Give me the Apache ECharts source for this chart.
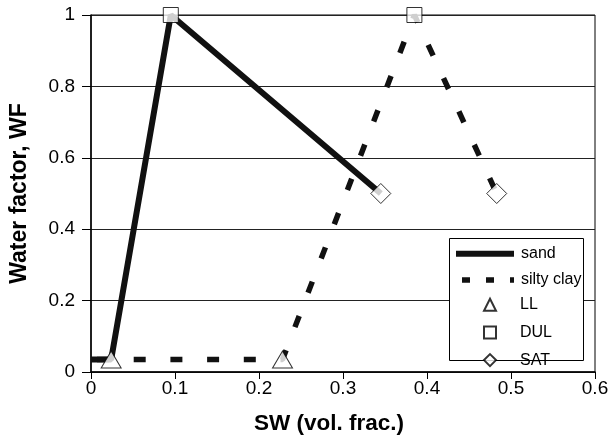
<!DOCTYPE html>
<html>
<head>
<meta charset="utf-8">
<script src="https://cdn.jsdelivr.net/npm/echarts@6/dist/echarts.min.js"></script>
<style>html,body{margin:0;padding:0;background:#fff}#c{width:612px;height:442px}</style>
</head>
<body>
<div id="c"></div>
<script>
// Data
const xTicks = [0, 0.1, 0.2, 0.3, 0.4, 0.5, 0.6];
const yTicks = [0, 0.2, 0.4, 0.6, 0.8, 1];
const sandSW = [0, 0.024, 0.095, 0.345];
const sandWF = [0.035, 0.035, 1, 0.5];
const claySW = [0, 0.228, 0.385, 0.483];
const clayWF = [0.035, 0.035, 1, 0.5];
// indices of the LL, DUL, SAT points within each curve
const LL_IDX = 1, DUL_IDX = 2, SAT_IDX = 3;

const FONT = '"Liberation Sans", Arial, sans-serif';
const pts = (xs, ys) => xs.map((x, i) => [x, ys[i]]);
const sand = pts(sandSW, sandWF);
const clay = pts(claySW, clayWF);
const markerStyle = { color: '#fff', borderColor: '#000', borderWidth: 1 };
const hiddenSymbol = { color: 'rgba(0,0,0,0)', borderColor: 'rgba(0,0,0,0)', borderWidth: 0, opacity: 0 };

const chart = echarts.init(document.getElementById('c'), null, { renderer: 'canvas' });
chart.setOption({
  animation: false,
  backgroundColor: '#fff',
  grid: { left: 91, right: 17, top: 15, bottom: 70, show: true, borderColor: '#000', borderWidth: 1, backgroundColor: 'transparent' },
  xAxis: {
    type: 'value', min: xTicks[0], max: xTicks[xTicks.length - 1], interval: 0.1,
    name: 'SW (vol. frac.)', nameLocation: 'middle', nameGap: 40,
    nameTextStyle: { fontFamily: FONT, fontSize: 22.5, fontWeight: 'bold', color: '#000', padding: [0, 28, 0, 0] },
    axisLine: { lineStyle: { color: '#000', width: 1.5 } },
    axisTick: { show: true, inside: false, length: 7, lineStyle: { color: '#000', width: 1 } },
    axisLabel: { fontFamily: FONT, fontSize: 19, color: '#000', margin: 7 },
    splitLine: { show: false }
  },
  yAxis: {
    type: 'value', min: yTicks[0], max: yTicks[yTicks.length - 1], interval: 0.2,
    name: 'Water factor, WF', nameLocation: 'middle', nameGap: 60,
    nameTextStyle: { fontFamily: FONT, fontSize: 23, fontWeight: 'bold', color: '#000' },
    axisLine: { lineStyle: { color: '#000', width: 1.5 } },
    axisTick: { show: true, inside: false, length: 9, lineStyle: { color: '#000', width: 1 } },
    axisLabel: { fontFamily: FONT, fontSize: 19, color: '#000', margin: 16 },
    splitLine: { show: true, lineStyle: { color: '#222', width: 1 } }
  },
  graphic: [{
    type: 'rect', z: 3, shape: { x: 449.5, y: 238.5, width: 134, height: 122 },
    style: { fill: '#fff', stroke: '#000', lineWidth: 1 }
  }],
  legend: [{
    data: [
      { name: 'sand', lineStyle: { width: 6, type: 'solid', color: '#111' }, itemStyle: hiddenSymbol },
      { name: 'silty clay', lineStyle: { width: 5.5, type: [8, 16], color: '#111' }, itemStyle: hiddenSymbol }
    ],
    orient: 'vertical', left: 453, top: 245.7, itemWidth: 58, itemHeight: 14, itemGap: 10.3, padding: 0, z: 5,
    textStyle: { fontFamily: FONT, fontSize: 16, color: '#000', padding: [0, 0, 0, 2] }
  }, {
    data: ['LL', 'DUL', 'SAT'],
    orient: 'vertical', left: 483, top: 296.7, itemWidth: 12, itemHeight: 12, itemGap: 11.7, padding: 0, z: 5,
    textStyle: { fontFamily: FONT, fontSize: 16, color: '#000', padding: [0, 0, 0, 19] }
  }],
  series: [
    { name: 'sand', type: 'line', data: sand, symbol: 'none', z: 2,
      lineStyle: { color: '#111', width: 6, type: 'solid' }, itemStyle: { color: '#111' } },
    { name: 'silty clay', type: 'line', data: clay, symbol: 'none', z: 2,
      lineStyle: { color: '#111', width: 5.5, type: [12, 24.7], dashOffset: -6 }, itemStyle: { color: '#111' } },
    { name: 'LL', type: 'scatter', data: [sand[LL_IDX], clay[LL_IDX]], symbol: 'triangle', symbolSize: [20, 17], z: 4, itemStyle: markerStyle },
    { name: 'DUL', type: 'scatter', data: [sand[DUL_IDX], clay[DUL_IDX]], symbol: 'rect', symbolSize: 15, z: 4, itemStyle: markerStyle },
    { name: 'SAT', type: 'scatter', data: [sand[SAT_IDX], clay[SAT_IDX]], symbol: 'diamond', symbolSize: 20, z: 4, itemStyle: markerStyle }
  ]
});
</script>
</body>
</html>
